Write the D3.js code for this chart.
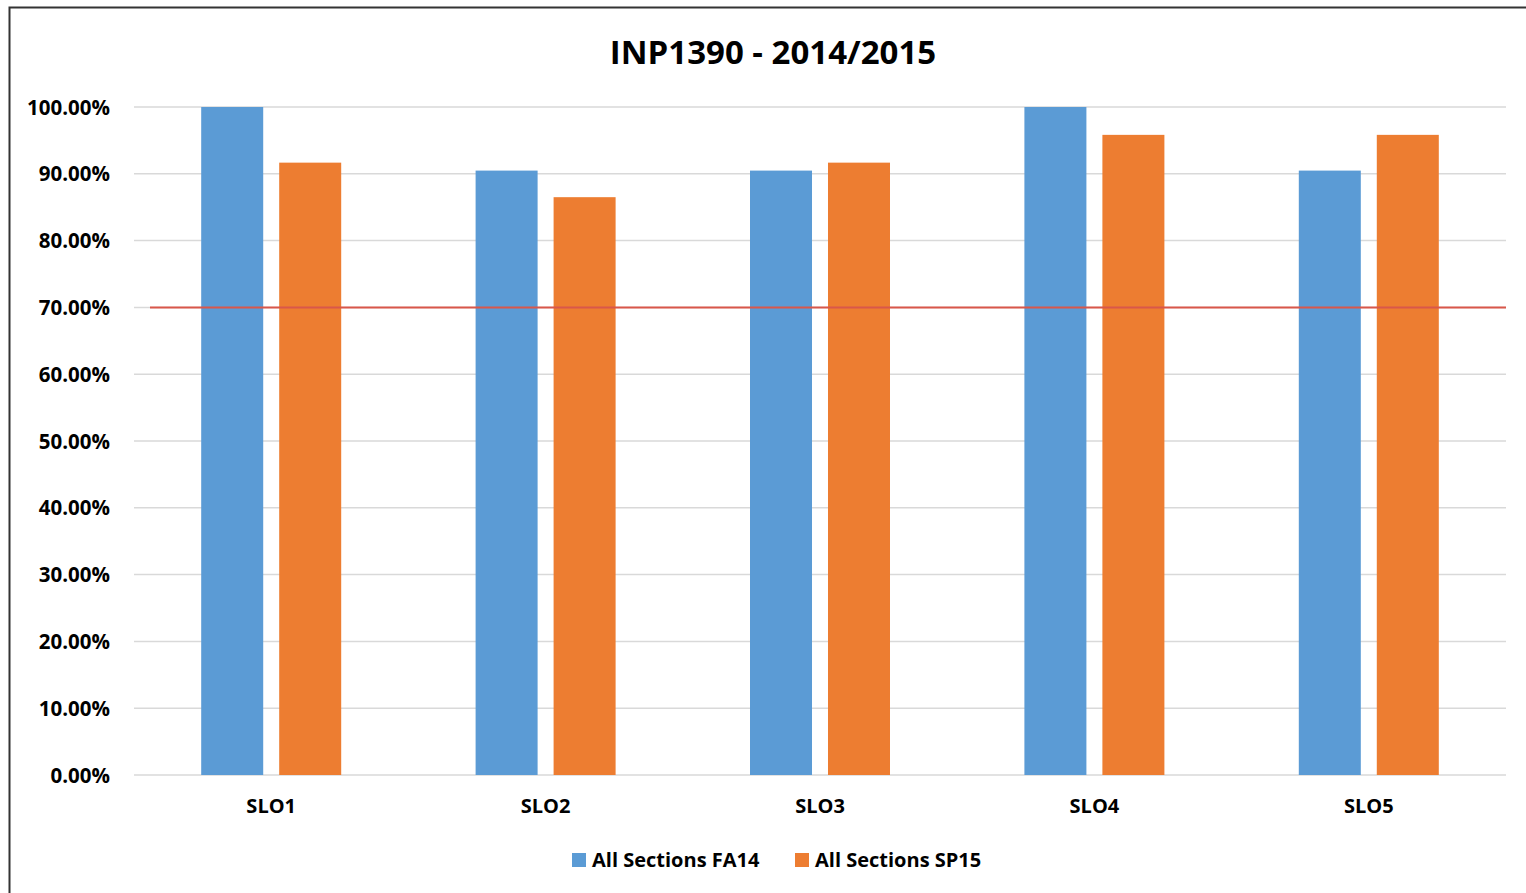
<!DOCTYPE html>
<html>
<head>
<meta charset="utf-8">
<script src="https://cdn.jsdelivr.net/npm/d3@7"></script>
<style>
  body { margin: 0; background: #fff; }
  text { font-family: "Open Sans", sans-serif; font-weight: bold; fill: #000; }
</style>
</head>
<body>
<script>
// chart data
var categories = ["SLO1", "SLO2", "SLO3", "SLO4", "SLO5"];
var seriesNames = ["All Sections FA14", "All Sections SP15"];
var fa14 = [1.0, 0.9048, 0.9048, 1.0, 0.9048];
var sp15 = [0.9167, 0.865, 0.9167, 0.9583, 0.9583];
var yTicks = [0, 0.1, 0.2, 0.3, 0.4, 0.5, 0.6, 0.7, 0.8, 0.9, 1.0];
var target = 0.70;
var colors = ["#5b9bd5", "#ed7d31"];

var width = 1526, height = 893;
var plot = {left: 134, right: 1506, top: 107, bottom: 775};

var svg = d3.select("body").append("svg")
    .attr("width", width)
    .attr("height", height);

// chart frame
svg.append("rect")
    .attr("x", 9.5).attr("y", 7.5)
    .attr("width", 1530).attr("height", 900)
    .attr("fill", "#fff")
    .attr("stroke", "#333")
    .attr("stroke-width", 2);

var x = d3.scaleBand()
    .domain(categories)
    .range([plot.left, plot.right]);

var xSub = d3.scaleBand()
    .domain(seriesNames)
    .range([0, 140])
    .paddingInner(0.205);

var y = d3.scaleLinear()
    .domain([0, 1])
    .range([plot.bottom, plot.top]);

// gridlines
svg.append("g")
  .selectAll("line")
  .data(yTicks)
  .enter().append("line")
    .attr("x1", plot.left).attr("x2", plot.right)
    .attr("y1", function(d) { return y(d); })
    .attr("y2", function(d) { return y(d); })
    .attr("stroke", "#d9d9d9")
    .attr("stroke-width", 1.5);

// y axis labels
var yAxis = d3.axisLeft(y)
    .tickValues(yTicks)
    .tickFormat(d3.format(".2%"))
    .tickSize(0)
    .tickPadding(0);

var gy = svg.append("g")
    .attr("transform", "translate(110,0)")
    .call(yAxis);
gy.select(".domain").remove();
gy.selectAll("text")
    .style("font-size", "20.5px")
    .attr("dy", "0.35em");

// bars
var rows = categories.map(function(c, i) {
  return {cat: c, values: [fa14[i], sp15[i]]};
});

var groups = svg.append("g")
  .selectAll("g")
  .data(rows)
  .enter().append("g")
    .attr("transform", function(d) {
      return "translate(" + (x(d.cat) + x.bandwidth() / 2 - 70) + ",0)";
    });

groups.selectAll("rect")
  .data(function(d) {
    return d.values.map(function(v, j) { return {name: seriesNames[j], value: v, j: j}; });
  })
  .enter().append("rect")
    .attr("x", function(d) { return xSub(d.name); })
    .attr("width", xSub.bandwidth())
    .attr("y", function(d) { return y(d.value); })
    .attr("height", function(d) { return y(0) - y(d.value); })
    .attr("fill", function(d) { return colors[d.j]; });

// target line
svg.append("line")
    .attr("x1", 150).attr("x2", plot.right)
    .attr("y1", y(target)).attr("y2", y(target))
    .attr("stroke", "#d9574a")
    .attr("stroke-width", 2);

// x axis labels
var xAxis = d3.axisBottom(x).tickSize(0).tickPadding(0);
var gx = svg.append("g")
    .attr("transform", "translate(0,813)")
    .call(xAxis);
gx.select(".domain").remove();
gx.selectAll("text")
    .style("font-size", "20px")
    .attr("dy", 0)
    .attr("y", 0);

// title
svg.append("text")
    .attr("x", 773)
    .attr("y", 64)
    .attr("text-anchor", "middle")
    .style("font-size", "33px")
    .text("INP1390 - 2014/2015");

// legend
var legendX = [572, 795];
var legend = svg.append("g")
  .selectAll("g")
  .data(seriesNames)
  .enter().append("g")
    .attr("transform", function(d, i) { return "translate(" + legendX[i] + ",853)"; });

legend.append("rect")
    .attr("width", 14).attr("height", 14)
    .attr("fill", function(d, i) { return colors[i]; });

legend.append("text")
    .attr("x", 20)
    .attr("y", 14)
    .style("font-size", "20px")
    .text(function(d) { return d; });
</script>
</body>
</html>
